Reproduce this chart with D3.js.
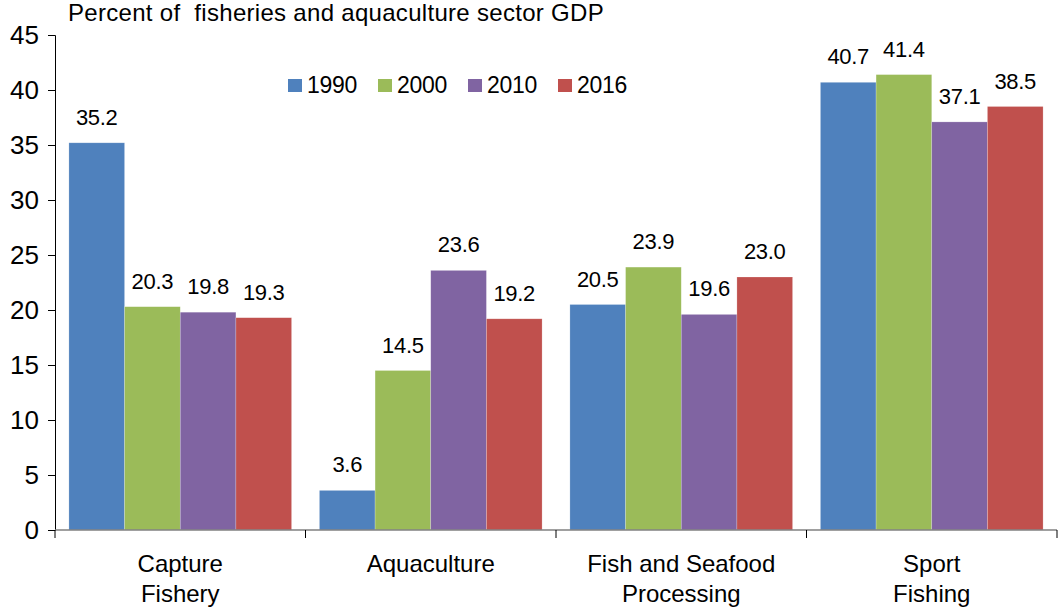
<!DOCTYPE html>
<html>
<head>
<meta charset="utf-8">
<script src="https://cdn.jsdelivr.net/npm/d3@7"></script>
<style>
  html, body { margin: 0; padding: 0; background: #fff; }
  svg { display: block; font-family: "Liberation Sans", Arial, sans-serif; }
  .pre { white-space: pre; }
</style>
</head>
<body>
<svg id="chart" width="1060" height="608"></svg>
<script>
// Share of fisheries and aquaculture sector GDP by sub-sector
const categories = [["Capture", "Fishery"], ["Aquaculture"], ["Fish and Seafood", "Processing"], ["Sport", "Fishing"]];
const years = ["1990", "2000", "2010", "2016"];
const values1990 = [35.2, 3.6, 20.5, 40.7];
const values2000 = [20.3, 14.5, 23.9, 41.4];
const values2010 = [19.8, 23.6, 19.6, 37.1];
const values2016 = [19.3, 19.2, 23.0, 38.5];
const yTicks = [0, 5, 10, 15, 20, 25, 30, 35, 40, 45];
const colors = ["#4F81BD", "#9BBB59", "#8064A2", "#C0504D"];
const title = "Percent of  fisheries and aquaculture sector GDP";

const series = [values1990, values2000, values2010, values2016];
const svg = d3.select("#chart");
const margin = { left: 55, right: 3, top: 35, bottom: 78 };
const W = 1060, H = 608;

const catKeys = categories.map((c, i) => i);
const x0 = d3.scaleBand().domain(catKeys).range([margin.left, W - margin.right]).padding(0);
const x1 = d3.scaleBand().domain(years).range([0, x0.bandwidth()]).paddingInner(0).paddingOuter(0.25);
const y = d3.scaleLinear().domain([0, 45]).range([H - margin.bottom, margin.top]);

// bars
const groups = svg.append("g").selectAll("g")
  .data(catKeys).join("g")
  .attr("transform", d => `translate(${x0(d)},0)`);

groups.selectAll("rect")
  .data(ci => years.map((yr, si) => ({ yr, si, v: series[si][ci] })))
  .join("rect")
  .attr("x", d => x1(d.yr))
  .attr("y", d => y(d.v))
  .attr("width", x1.bandwidth())
  .attr("height", d => y(0) - y(d.v))
  .attr("fill", d => colors[d.si])
  .attr("stroke", "rgba(255,255,255,0.35)")
  .attr("stroke-width", 0.6);

// value labels
groups.selectAll("text.val")
  .data(ci => years.map((yr, si) => ({ yr, si, v: series[si][ci] })))
  .join("text")
  .attr("class", "val")
  .attr("x", d => x1(d.yr) + x1.bandwidth() / 2)
  .attr("y", d => y(d.v) - 18)
  .attr("text-anchor", "middle")
  .attr("font-size", 22)
  .attr("letter-spacing", -0.3)
  .attr("fill", "#000")
  .text(d => d.v.toFixed(1));

// y axis
const yAxis = svg.append("g")
  .attr("transform", `translate(${margin.left},0)`)
  .call(d3.axisLeft(y).tickValues(yTicks).tickSize(7).tickPadding(9).tickFormat(d3.format("d")));
yAxis.select(".domain").attr("stroke", "#000").attr("stroke-width", 1);
yAxis.selectAll(".tick line").attr("stroke", "#000");
yAxis.selectAll(".tick text").attr("font-size", 26).attr("fill", "#000")
  .attr("font-family", "'Liberation Sans', Arial, sans-serif");

// x axis
const xAxis = svg.append("g")
  .attr("transform", `translate(0,${y(0)})`);
xAxis.append("line")
  .attr("x1", margin.left).attr("x2", W - margin.right)
  .attr("y1", 0).attr("y2", 0)
  .attr("stroke", "#808080").attr("stroke-width", 1.5);
const bounds = catKeys.map(k => x0(k)).concat([x0(catKeys[catKeys.length - 1]) + x0.bandwidth()]);
xAxis.selectAll("line.tk").data(bounds).join("line")
  .attr("class", "tk")
  .attr("x1", d => d).attr("x2", d => d)
  .attr("y1", 0).attr("y2", 8)
  .attr("stroke", "#000");

const catLabels = xAxis.selectAll("text.cat").data(catKeys).join("text")
  .attr("class", "cat")
  .attr("text-anchor", "middle")
  .attr("font-size", 24)
  .attr("fill", "#000");
catLabels.each(function (k) {
  const t = d3.select(this);
  categories[k].forEach((line, i) => {
    t.append("tspan")
      .attr("x", x0(k) + x0.bandwidth() / 2)
      .attr("y", 42 + i * 30)
      .text(line);
  });
});

// title
svg.append("text")
  .attr("class", "pre")
  .attr("x", 68).attr("y", 21)
  .attr("font-size", 24)
  .attr("letter-spacing", 0.3)
  .attr("fill", "#000")
  .text(title);

// legend
const legend = svg.append("g").attr("transform", "translate(288,0)");
const li = legend.selectAll("g").data(years).join("g")
  .attr("transform", (d, i) => `translate(${i * 90},0)`);
li.append("rect").attr("x", 0).attr("y", 79).attr("width", 14).attr("height", 13)
  .attr("fill", (d, i) => colors[i]);
li.append("text").attr("x", 19).attr("y", 93).attr("font-size", 23).attr("letter-spacing", -0.3)
  .attr("fill", "#000").text(d => d);
</script>
</body>
</html>
